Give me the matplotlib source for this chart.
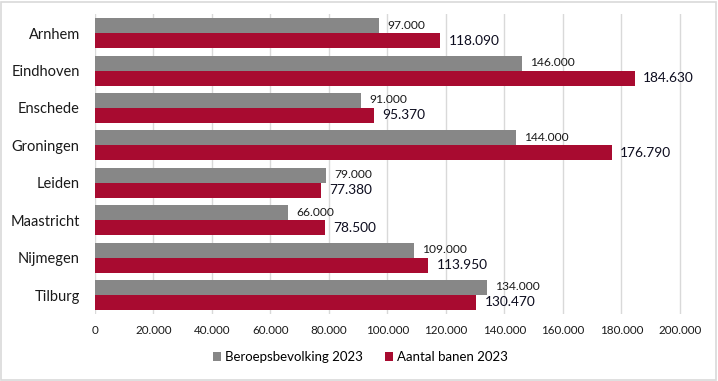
import matplotlib
matplotlib.use("Agg")
import matplotlib.pyplot as plt
from matplotlib.patches import Rectangle
import numpy as np

cities = ["Arnhem", "Eindhoven", "Enschede", "Groningen", "Leiden", "Maastricht", "Nijmegen", "Tilburg"]
beroepsbevolking = [97000, 146000, 91000, 144000, 79000, 66000, 109000, 134000]
banen = [118090, 184630, 95370, 176790, 77380, 78500, 113950, 130470]
xticks = [0, 20000, 40000, 60000, 80000, 100000, 120000, 140000, 160000, 180000, 200000]

def fmt(v):
    return f"{v:,}".replace(",", ".")

plt.rcParams['font.family'] = ['Lato', 'DejaVu Sans']

fig = plt.figure(figsize=(7.18, 3.81), dpi=100)
renderer = fig.canvas.get_renderer()

def fit_size(s, target_px, base=10.0):
    t = fig.text(0, 0, s, fontsize=base)
    w = t.get_window_extent(renderer).width
    t.remove()
    return base * target_px / w

fs_cat = fit_size("Maastricht", 69)
fs_tick = fit_size("100.000", 43)
fs_gray = fit_size("146.000", 45)
fs_red = fit_size("184.630", 51)
fs_leg = fit_size("Aantal banen 2023", 111)

ax = fig.add_axes([0.1323, 0.1766, 0.9875 - 0.1323, 0.962 - 0.1766])

gray = "#878787"
red = "#A80B30"
y = np.arange(len(cities))
h = 0.4
b1 = ax.barh(y - h / 2, beroepsbevolking, height=h, color=gray, label="Beroepsbevolking 2023", zorder=2)
b2 = ax.barh(y + h / 2, banen, height=h, color=red, label="Aantal banen 2023", zorder=2)

for rect, v in zip(b1, beroepsbevolking):
    ax.annotate(fmt(v), (rect.get_width(), rect.get_y() + rect.get_height() / 2),
                xytext=(6, 0.5), textcoords="offset points", va="center", ha="left",
                fontsize=fs_gray, color="#1a1a1a")
for rect, v in zip(b2, banen):
    ax.annotate(fmt(v), (rect.get_width(), rect.get_y() + rect.get_height() / 2),
                xytext=(6, 0), textcoords="offset points", va="center", ha="left",
                fontsize=fs_red, color="#0d0d1f")

ax.set_ylim(len(cities) - 0.5, -0.5)
ax.set_xlim(0, 210000)
ax.set_yticks(y)
ax.set_yticklabels(cities, fontsize=fs_cat, color="#1a1a1a")
ax.set_xticks(xticks)
ax.set_xticklabels([fmt(t) for t in xticks], fontsize=fs_tick, color="#1a1a1a")
ax.tick_params(axis="both", length=0)
ax.tick_params(axis="y", pad=11)
ax.tick_params(axis="x", pad=8)
for s in ax.spines.values():
    s.set_visible(False)
ax.grid(axis="x", color="#d9d9d9", linewidth=1, zorder=0)
ax.set_axisbelow(True)

fig.legend(handles=[b1, b2], loc="center", bbox_to_anchor=(0.502, 0.063), ncol=2,
           frameon=False, fontsize=fs_leg, handlelength=0.6, handleheight=0.6,
           handletextpad=0.3, columnspacing=1.6)

fig.patches.append(Rectangle((0.002, 0.003), 0.995, 0.993, transform=fig.transFigure,
                             fill=False, edgecolor="#d9d9d9", linewidth=1.2))

fig.savefig("out.png", dpi=100)
